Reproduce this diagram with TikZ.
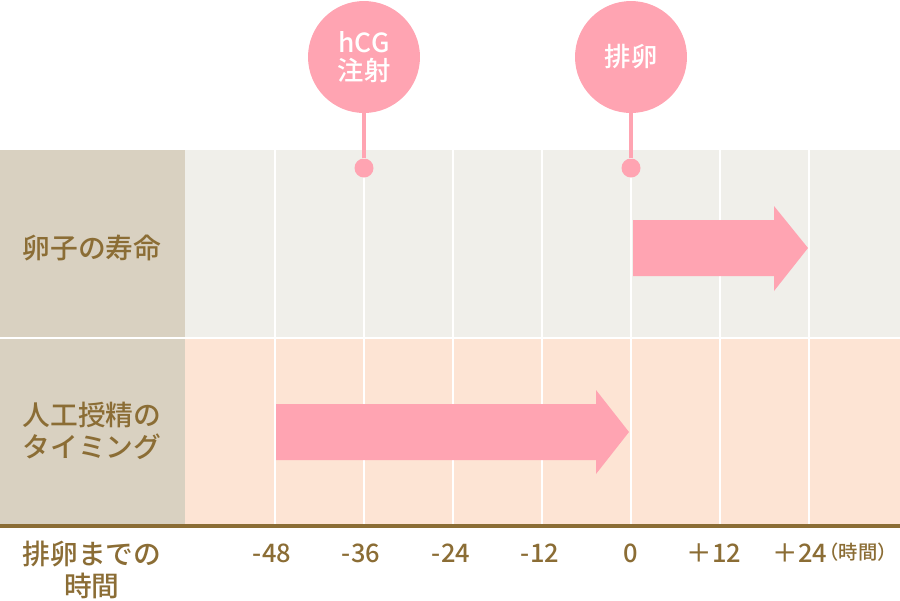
\documentclass[tikz,border=0pt]{standalone}
\usepackage{fontspec}
\setmainfont{Noto Sans CJK JP}[BoldFont=* Medium]
\usetikzlibrary{positioning}

\definecolor{pinkmark}{HTML}{FFA4B2}
\definecolor{sidebeige}{HTML}{D9D1C1}
\definecolor{rowgray}{HTML}{F0EFEA}
\definecolor{rowpeach}{HTML}{FDE4D4}
\definecolor{textbrown}{HTML}{8B6D35}

\tikzset{
  rowlabel/.style={text=textbrown, align=center, font=\bfseries\fontsize{15.8}{18.2}\selectfont},
  ticklabel/.style={text=textbrown, font=\bfseries\fontsize{14.5}{16}\selectfont},
  unitlabel/.style={text=textbrown, inner sep=1pt, font=\bfseries\fontsize{11}{13}\selectfont},
  bubble/.style={circle, fill=pinkmark, inner sep=0pt, minimum size=2.24cm,
    text=white, align=center, font=\bfseries\fontsize{15}{16.2}\selectfont},
  pindot/.style={circle, fill=pinkmark, inner sep=0pt, minimum size=0.38cm},
  pinline/.style={draw=pinkmark, line width=2.8pt},
  gridline/.style={draw=white, line width=1.7pt}
}

\begin{document}
\begin{tikzpicture}[x=0.02cm, y=-0.02cm]
    \useasboundingbox (0,0) rectangle (900,600);

    % 背景の帯
    \fill[rowgray] (185,150) rectangle (900,337);
    \fill[rowpeach] (185,339) rectangle (900,525);
    \fill[sidebeige] (0,150) rectangle (185,337);
    \fill[sidebeige] (0,339) rectangle (185,525);

    % 目盛りの縦線
    \foreach \x in {275,364,...,809}
        \draw[gridline] (\x,150) -- (\x,525);
    \draw[textbrown, line width=2.3pt] (0,526) -- (900,526);

    % 矢印
    \fill[pinkmark] (633,220) -- (774,220) -- (774,206) -- (808,248)
        -- (774,291) -- (774,276) -- (633,276) -- cycle;
    \fill[pinkmark] (276,404) -- (596,404) -- (596,390) -- (629,432)
        -- (596,474) -- (596,460) -- (276,460) -- cycle;

    % 行の見出し
    \node[rowlabel] (eggrow) at (92,248) {卵子の寿命};
    \node[rowlabel] (airow) at (92,431) {人工授精の\\タイミング};
    \node[rowlabel] (timerow) at (92,570) {排卵までの\\時間};

    % 時間の目盛り
    \foreach \x/\lab [count=\i] in {272/-48,361/-36,451/-24,540/-12,631/0,
        714/＋12,800/＋24}
        \node[ticklabel] (tick\i) at (\x,553) {\lab};
    \node[unitlabel, anchor=east] (unit) at (899,552) {（時間）};

    % ピン
    \node[pindot] (hcgdot) at (364,168) {};
    \node[pindot] (ovudot) at (631,168) {};
    \node[bubble] (hcg) at (364,57) {hCG\\注射};
    \node[bubble] (ovu) at (631,57) {排卵};
    \draw[pinline] (hcg) -- (hcgdot);
    \draw[pinline] (ovu) -- (ovudot);
\end{tikzpicture}
\end{document}
